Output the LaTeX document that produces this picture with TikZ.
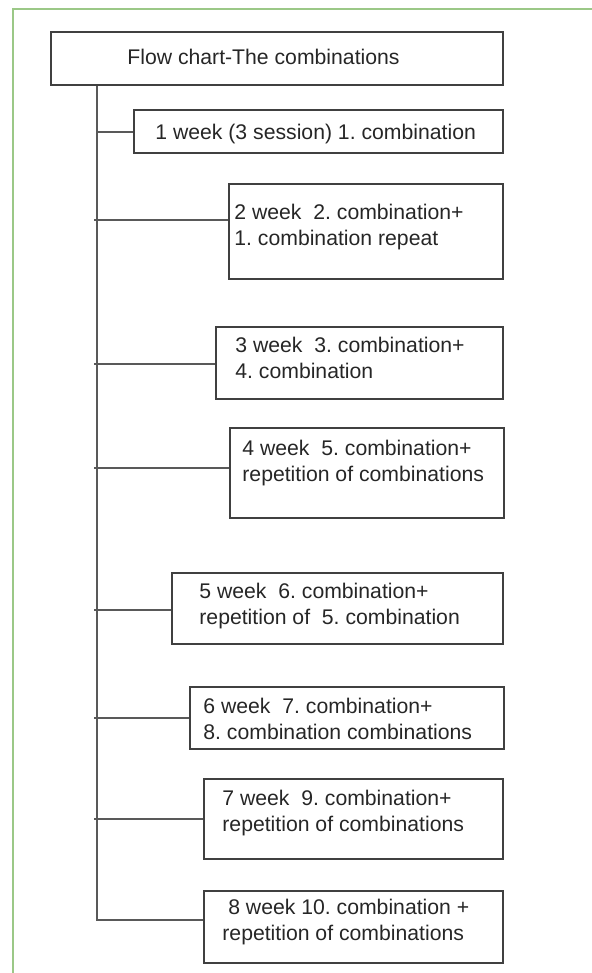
\documentclass[tikz,border=0pt]{standalone}
\usepackage{fontspec}
\setmainfont{Liberation Sans}
\usetikzlibrary{fit}
\definecolor{framegreen}{RGB}{155,200,135}
\frenchspacing

\begin{document}
\begin{tikzpicture}[
                x=0.5pt, y=-0.5pt,
                box/.style={draw=black!75, line width=0.9pt, inner sep=0pt},
                txt/.style={anchor=north west, inner sep=0pt, align=left,
                            text=black!85, font=\fontsize{10.6pt}{13pt}\selectfont},
                link/.style={draw=black!65, line width=0.8pt}]
                \useasboundingbox (0,0) rectangle (592,973);
                \draw[framegreen, line width=0.8pt] (12.7,973) -- (12.7,9.3) -- (592,9.3);
                \node[box, fit={(51,32) (503,85)}] (title) {};
                \node[box, fit={(134,110) (503,153)}] (w1) {};
                \node[box, fit={(229,184) (503,279)}] (w2) {};
                \node[box, fit={(216,327) (503,399)}] (w3) {};
                \node[box, fit={(230,428) (504,518)}] (w4) {};
                \node[box, fit={(172,573) (503,644)}] (w5) {};
                \node[box, fit={(190,687) (504,749)}] (w6) {};
                \node[box, fit={(204,779) (503,859)}] (w7) {};
                \node[box, fit={(204,891) (503,963)}] (w8) {};
                \node[txt] (ttitle) at (127,48.7) {Flow chart-The combinations};
                \node[txt] (t1) at (155,123.7) {1 week (3 session) 1. combination};
                \node[txt] (t2) at (234,203.7) {2 week~ 2. combination+\\1. combination repeat};
                \node[txt] (t3) at (235,336.7) {3 week~ 3. combination+\\4. combination};
                \node[txt] (t4) at (242,439.7) {4 week~ 5. combination+\\repetition of combinations};
                \node[txt] (t5) at (199,582.7) {5 week~ 6. combination+\\repetition of~ 5. combination};
                \node[txt] (t6) at (203,697.7) {6 week~ 7. combination+\\8. combination combinations};
                \node[txt] (t7) at (222,789.7) {7 week~ 9. combination+\\repetition of combinations};
                \node[txt] (t8) at (222,898.7) {\ 8 week 10. combination +\\repetition of combinations};
                \coordinate (j1) at (97,132);
                \coordinate (j2) at (94,220);
                \coordinate (j3) at (94,364);
                \coordinate (j4) at (94,468);
                \coordinate (j5) at (94,610);
                \coordinate (j6) at (94,718);
                \coordinate (j7) at (94,819);
                \coordinate (j8) at (97,920);
                \draw[link] (title.south -| j1) -- (j8) -- (j8 -| w8.west);
                \draw[link] (j1) -- (j1 -| w1.west);
                \draw[link] (j2) -- (j2 -| w2.west);
                \draw[link] (j3) -- (j3 -| w3.west);
                \draw[link] (j4) -- (j4 -| w4.west);
                \draw[link] (j5) -- (j5 -| w5.west);
                \draw[link] (j6) -- (j6 -| w6.west);
                \draw[link] (j7) -- (j7 -| w7.west);
            \end{tikzpicture}
\end{document}
